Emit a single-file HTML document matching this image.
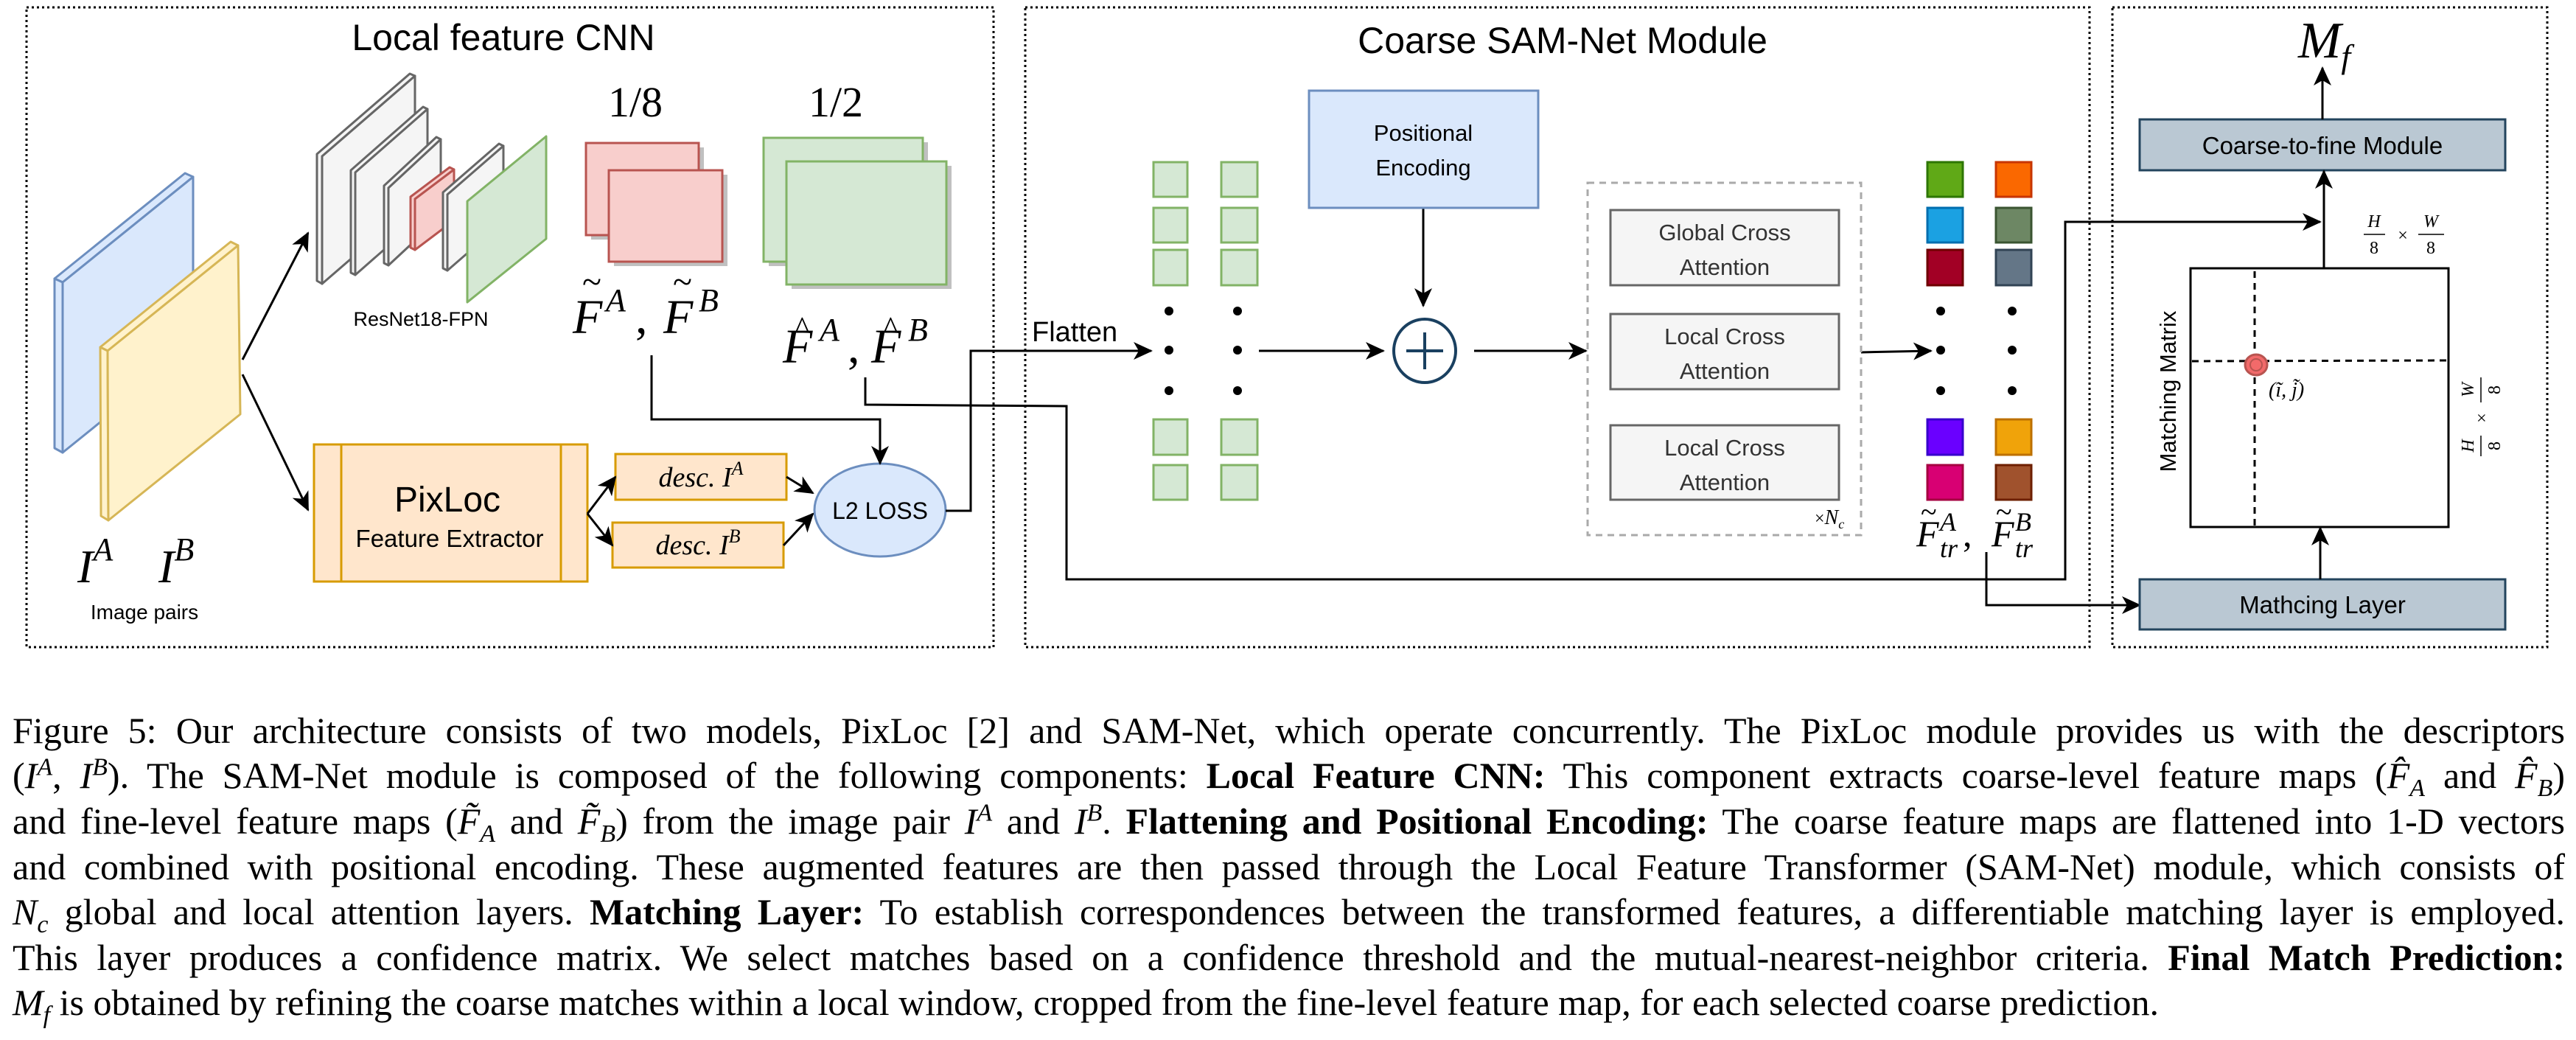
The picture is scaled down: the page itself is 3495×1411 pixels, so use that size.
<!DOCTYPE html>
<html><head><meta charset="utf-8"><style>
html,body{margin:0;padding:0;background:#fff;}
body{width:3495px;height:1411px;position:relative;overflow:hidden;}
svg{position:absolute;left:0;top:0;}
.cap{position:absolute;left:17px;width:3463px;font-family:"Liberation Serif",serif;font-size:50px;line-height:61px;white-space:nowrap;text-align:justify;text-align-last:justify;color:#000;}
.cap i{font-style:italic}
.cap sup,.cap sub{font-size:34px;line-height:0;font-style:italic}
</style></head><body>
<svg width="3495" height="900" viewBox="0 0 3495 900" xmlns="http://www.w3.org/2000/svg">
<defs>
<marker id="ar" markerUnits="userSpaceOnUse" markerWidth="28" markerHeight="28" refX="24" refY="12" orient="auto">
<path d="M0,0 L26,12 L0,24 L7,12 Z" fill="#000"/>
</marker>
</defs>
<g fill="none" stroke="#000" stroke-width="3" stroke-dasharray="3 4">
<rect x="36" y="10" width="1312" height="868"/>
<rect x="1391" y="10" width="1444" height="868"/>
<rect x="2866" y="10" width="590" height="868"/>
</g>
<g font-family="Liberation Sans, sans-serif" text-anchor="middle" fill="#000">
<text x="683" y="68" font-size="50">Local feature CNN</text>
<text x="2120" y="72" font-size="50">Coarse SAM-Net Module</text>
</g>
<g stroke-width="3" stroke-linejoin="round">
<polygon points="74,378 251,235 262,240 85,383" fill="#dae8fc" stroke="#6c8ebf"/>
<polygon points="74,378 85,383 85,614 74,608" fill="#dae8fc" stroke="#6c8ebf"/>
<polygon points="85,383 262,240 262,471 85,614" fill="#dae8fc" stroke="#6c8ebf"/>
<polygon points="136,471 313,328 323,333 146,476" fill="#fff2cc" stroke="#d6b656"/>
<polygon points="136,471 146,476 147,706 137,700" fill="#fff2cc" stroke="#d6b656"/>
<polygon points="146,476 323,333 326,562 147,706" fill="#fff2cc" stroke="#d6b656"/>
</g>
<g font-family="Liberation Serif, serif" font-style="italic" fill="#000">
<text x="105" y="790" font-size="64">I<tspan font-size="44" dy="-30">A</tspan></text>
<text x="215" y="790" font-size="64">I<tspan font-size="44" dy="-30">B</tspan></text>
</g>
<text x="196" y="840" font-family="Liberation Sans, sans-serif" font-size="28" text-anchor="middle">Image pairs</text>
<g stroke="#000" stroke-width="3" fill="none">
<line x1="329" y1="488" x2="418" y2="316" marker-end="url(#ar)"/>
<line x1="329" y1="508" x2="418" y2="692" marker-end="url(#ar)"/>
</g>
<g stroke-width="3" stroke-linejoin="round">
<polygon points="430,209 556,100 563,103 437,212 437,385 430,381" fill="#f5f5f5" stroke="#666"/>
<polygon points="437,212 563,103 563,276 437,385" fill="#f5f5f5" stroke="#666"/>
<polygon points="476,231 574,145 580,148 482,234 482,373 476,370" fill="#f5f5f5" stroke="#666"/>
<polygon points="482,234 580,148 580,287 482,373" fill="#f5f5f5" stroke="#666"/>
<polygon points="521,252 592,186 598,189 527,255 527,360 521,357" fill="#f5f5f5" stroke="#666"/>
<polygon points="527,255 598,189 598,294 527,360" fill="#f5f5f5" stroke="#666"/>
<polygon points="557,267 610,227 616,230 563,270 563,339 557,336" fill="#f8cecc" stroke="#b85450"/>
<polygon points="563,270 616,230 616,299 563,339" fill="#f8cecc" stroke="#b85450"/>
<polygon points="601,261 677,195 683,198 607,264 607,367 601,364" fill="#f5f5f5" stroke="#666"/>
<polygon points="607,264 683,198 683,301 607,367" fill="#f5f5f5" stroke="#666"/>
<polygon points="634,273 741,185 741,324 634,410" fill="#d5e8d4" stroke="#82b366"/>
</g>
<text x="571" y="442" font-family="Liberation Sans, sans-serif" font-size="27" text-anchor="middle">ResNet18-FPN</text>
<g font-family="Liberation Serif, serif" font-size="58" text-anchor="middle">
<text x="862" y="158">1/8</text>
<text x="1134" y="158">1/2</text>
</g>
<rect x="802" y="200" width="153" height="125" fill="#c0c0c0"/>
<rect x="795" y="194" width="153" height="125" fill="#f8cecc" stroke="#b85450" stroke-width="3"/>
<rect x="833" y="237" width="154" height="124" fill="#c0c0c0"/>
<rect x="826" y="231" width="154" height="124" fill="#f8cecc" stroke="#b85450" stroke-width="3"/>
<rect x="1043" y="193" width="216" height="168" fill="#c0c0c0"/>
<rect x="1036" y="187" width="216" height="168" fill="#d5e8d4" stroke="#82b366" stroke-width="3"/>
<rect x="1074" y="225" width="217" height="167" fill="#c0c0c0"/>
<rect x="1067" y="219" width="217" height="167" fill="#d5e8d4" stroke="#82b366" stroke-width="3"/>
<g font-family="Liberation Serif, serif" font-style="italic" fill="#000">
<text x="777" y="452" font-size="66">F</text>
<text x="822" y="422" font-size="44">A</text>
<text x="862" y="452" font-size="66" font-style="normal">,</text>
<text x="900" y="452" font-size="66">F</text>
<text x="948" y="422" font-size="44">B</text>
<text x="790" y="398" font-size="48" font-style="normal">~</text>
<text x="913" y="398" font-size="48" font-style="normal">~</text>
<text x="1062" y="492" font-size="66">F</text>
<text x="1112" y="462" font-size="44">A</text>
<text x="1150" y="492" font-size="66" font-style="normal">,</text>
<text x="1182" y="492" font-size="66">F</text>
<text x="1232" y="462" font-size="44">B</text>
<text x="1078" y="460" font-size="44" font-style="normal">^</text>
<text x="1198" y="460" font-size="44" font-style="normal">^</text>
</g>
<rect x="426" y="603" width="371" height="186" fill="#ffe6cc" stroke="#d79b00" stroke-width="3"/>
<line x1="463" y1="603" x2="463" y2="789" stroke="#d79b00" stroke-width="3"/>
<line x1="761" y1="603" x2="761" y2="789" stroke="#d79b00" stroke-width="3"/>
<text x="607" y="694" font-family="Liberation Sans, sans-serif" font-size="48" text-anchor="middle">PixLoc</text>
<text x="610" y="742" font-family="Liberation Sans, sans-serif" font-size="33" text-anchor="middle">Feature Extractor</text>
<rect x="835" y="616" width="232" height="62" fill="#ffe6cc" stroke="#d79b00" stroke-width="3"/>
<rect x="831" y="709" width="232" height="61" fill="#ffe6cc" stroke="#d79b00" stroke-width="3"/>
<g font-family="Liberation Serif, serif" font-style="italic" font-size="38" text-anchor="middle">
<text x="951" y="660">desc. I<tspan font-size="26" dy="-16">A</tspan></text>
<text x="947" y="752">desc. I<tspan font-size="26" dy="-16">B</tspan></text>
</g>
<ellipse cx="1194" cy="692" rx="89" ry="63" fill="#dae8fc" stroke="#6c8ebf" stroke-width="3"/>
<text x="1194" y="704" font-family="Liberation Sans, sans-serif" font-size="32" text-anchor="middle">L2 LOSS</text>
<g stroke="#000" stroke-width="3" fill="none">
<polyline points="797,697 835,647" marker-end="url(#ar)"/>
<polyline points="797,697 831,740" marker-end="url(#ar)"/>
<polyline points="1067,647 1103,669" marker-end="url(#ar)"/>
<polyline points="1063,740 1103,697" marker-end="url(#ar)"/>
<polyline points="884,482 884,569 1194,569 1194,629" marker-end="url(#ar)"/>
<polyline points="1283,693 1317,693 1317,476 1562,476" marker-end="url(#ar)"/>
<polyline points="1174,512 1174,549 1447,551 1447,786 2802,786 2802,301 3148,301" marker-end="url(#ar)"/>
<polyline points="2695,749 2695,821 2903,821" marker-end="url(#ar)"/>
<line x1="1708" y1="476" x2="1877" y2="476" marker-end="url(#ar)"/>
<line x1="1931" y1="282" x2="1931" y2="415" marker-end="url(#ar)"/>
<line x1="2000" y1="476" x2="2152" y2="476" marker-end="url(#ar)"/>
<line x1="2525" y1="478" x2="2620" y2="476" marker-end="url(#ar)"/>
</g>
<text x="1400" y="463" font-family="Liberation Sans, sans-serif" font-size="38">Flatten</text>
<g fill="#d5e8d4" stroke="#82b366" stroke-width="3">
<rect x="1565" y="220" width="46" height="47"/><rect x="1657" y="220" width="49" height="47"/>
<rect x="1565" y="282" width="46" height="47"/><rect x="1657" y="282" width="49" height="47"/>
<rect x="1565" y="339" width="46" height="48"/><rect x="1657" y="339" width="49" height="48"/>
<rect x="1565" y="569" width="46" height="48"/><rect x="1657" y="569" width="49" height="48"/>
<rect x="1565" y="631" width="46" height="47"/><rect x="1657" y="631" width="49" height="47"/>
</g>
<g fill="#000">
<circle cx="1586" cy="422" r="6"/><circle cx="1586" cy="475" r="6"/><circle cx="1586" cy="530" r="6"/>
<circle cx="1679" cy="422" r="6"/><circle cx="1679" cy="475" r="6"/><circle cx="1679" cy="530" r="6"/>
<circle cx="2633" cy="422" r="6"/><circle cx="2633" cy="475" r="6"/><circle cx="2633" cy="530" r="6"/>
<circle cx="2730" cy="422" r="6"/><circle cx="2730" cy="475" r="6"/><circle cx="2730" cy="530" r="6"/>
</g>
<rect x="1776" y="123" width="311" height="159" fill="#dae8fc" stroke="#6c8ebf" stroke-width="3"/>
<g font-family="Liberation Sans, sans-serif" font-size="31" text-anchor="middle">
<text x="1931" y="191">Positional</text>
<text x="1931" y="238">Encoding</text>
</g>
<ellipse cx="1933" cy="476" rx="42" ry="43" fill="#fff" stroke="#1a4060" stroke-width="4"/>
<line x1="1933" y1="451" x2="1933" y2="501" stroke="#1a4060" stroke-width="4"/>
<line x1="1908" y1="476" x2="1958" y2="476" stroke="#1a4060" stroke-width="4"/>
<rect x="2154" y="248" width="371" height="478" fill="none" stroke="#aaa" stroke-width="3" stroke-dasharray="9 7"/>
<g fill="#f5f5f5" stroke="#666" stroke-width="3">
<rect x="2185" y="285" width="310" height="102"/>
<rect x="2185" y="426" width="310" height="102"/>
<rect x="2185" y="577" width="310" height="101"/>
</g>
<g font-family="Liberation Sans, sans-serif" font-size="31" text-anchor="middle" fill="#333">
<text x="2340" y="326">Global Cross</text><text x="2340" y="373">Attention</text>
<text x="2340" y="467">Local Cross</text><text x="2340" y="514">Attention</text>
<text x="2340" y="618">Local Cross</text><text x="2340" y="665">Attention</text>
</g>
<text x="2462" y="711" font-family="Liberation Serif, serif" font-size="24">×<tspan font-style="italic" font-size="28">N</tspan><tspan font-style="italic" font-size="18" dy="6">c</tspan></text>
<g stroke-width="3">
<rect x="2615" y="220" width="48" height="47" fill="#60a917" stroke="#2d7600"/>
<rect x="2615" y="282" width="48" height="47" fill="#1ba1e2" stroke="#006eaf"/>
<rect x="2615" y="339" width="48" height="48" fill="#a20025" stroke="#6f0000"/>
<rect x="2615" y="569" width="48" height="48" fill="#6a00ff" stroke="#3700cc"/>
<rect x="2615" y="631" width="48" height="47" fill="#d80073" stroke="#a50040"/>
<rect x="2708" y="220" width="48" height="47" fill="#fa6800" stroke="#c73500"/>
<rect x="2708" y="282" width="48" height="47" fill="#6d8764" stroke="#3a5431"/>
<rect x="2708" y="339" width="48" height="48" fill="#647687" stroke="#314354"/>
<rect x="2708" y="569" width="48" height="48" fill="#f0a30a" stroke="#bd7000"/>
<rect x="2708" y="631" width="48" height="47" fill="#a0522d" stroke="#6d1f00"/>
</g>
<g font-family="Liberation Serif, serif" font-style="italic" fill="#000">
<text x="2600" y="741" font-size="50">F</text>
<text x="2632" y="720" font-size="36">A</text>
<text x="2632" y="756" font-size="36">tr</text>
<text x="2663" y="741" font-size="50" font-style="normal">,</text>
<text x="2702" y="741" font-size="50">F</text>
<text x="2734" y="720" font-size="36">B</text>
<text x="2734" y="756" font-size="36">tr</text>
<text x="2606" y="708" font-size="40" font-style="normal">~</text>
<text x="2708" y="708" font-size="40" font-style="normal">~</text>
</g>
<text x="3118" y="78" font-family="Liberation Serif, serif" font-style="italic" font-size="70">M<tspan font-size="46" dy="14">f</tspan></text>
<rect x="2903" y="162" width="496" height="69" fill="#bac8d3" stroke="#23445d" stroke-width="3"/>
<text x="3151" y="209" font-family="Liberation Sans, sans-serif" font-size="33" text-anchor="middle">Coarse-to-fine Module</text>
<rect x="2903" y="786" width="496" height="68" fill="#bac8d3" stroke="#23445d" stroke-width="3"/>
<text x="3151" y="832" font-family="Liberation Sans, sans-serif" font-size="33" text-anchor="middle">Mathcing Layer</text>
<g stroke="#000" stroke-width="3" fill="none">
<line x1="3151" y1="162" x2="3151" y2="92" marker-end="url(#ar)"/>
<line x1="3153" y1="364" x2="3153" y2="232" marker-end="url(#ar)"/>
<line x1="3148" y1="786" x2="3148" y2="716" marker-end="url(#ar)"/>
<rect x="2972" y="364" width="350" height="351"/>
<line x1="3059" y1="368" x2="3059" y2="713" stroke-dasharray="9 7"/>
<line x1="2974" y1="490" x2="3320" y2="489" stroke-dasharray="9 7"/>
</g>
<ellipse cx="3061" cy="495" rx="15" ry="14" fill="#f26a6a" stroke="#b85450" stroke-width="3"/>
<circle cx="3061" cy="495" r="8" fill="none" stroke="#b85450" stroke-width="2"/>
<text x="3078" y="538" font-family="Liberation Serif, serif" font-style="italic" font-size="28">(ĩ, j̃)</text>
<text transform="translate(2952,531) rotate(-90)" font-family="Liberation Sans, sans-serif" font-size="31" text-anchor="middle">Matching Matrix</text>
<g font-family="Liberation Serif, serif" font-size="24" text-anchor="middle">
<text x="3221" y="308" font-style="italic">H</text><line x1="3207" y1="318" x2="3236" y2="318" stroke="#000" stroke-width="1.5"/><text x="3221" y="344">8</text>
<text x="3260" y="327">×</text>
<text x="3298" y="308" font-style="italic">W</text><line x1="3281" y1="318" x2="3316" y2="318" stroke="#000" stroke-width="1.5"/><text x="3298" y="344">8</text>
<g transform="translate(3366,567) rotate(-90)">
<text x="-38" y="-10" font-style="italic">H</text><line x1="-52" y1="0" x2="-24" y2="0" stroke="#000" stroke-width="1.5"/><text x="-38" y="26">8</text>
<text x="0" y="9">×</text>
<text x="38" y="-10" font-style="italic">W</text><line x1="21" y1="0" x2="55" y2="0" stroke="#000" stroke-width="1.5"/><text x="38" y="26">8</text>
</g>
</g>
</svg>
<div class="cap" style="top:961px">Figure 5: Our architecture consists of two models, PixLoc [2] and SAM-Net, which operate concurrently. The PixLoc module provides us with the descriptors</div>
<div class="cap" style="top:1022px">(<i>I</i><sup>A</sup>, <i>I</i><sup>B</sup>). The SAM-Net module is composed of the following components: <b>Local Feature CNN:</b> This component extracts coarse-level feature maps (<i>F̂</i><sub><i>A</i></sub> and <i>F̂</i><sub><i>B</i></sub>)</div>
<div class="cap" style="top:1084px">and fine-level feature maps (<i>F̃</i><sub><i>A</i></sub> and <i>F̃</i><sub><i>B</i></sub>) from the image pair <i>I</i><sup>A</sup> and <i>I</i><sup>B</sup>. <b>Flattening and Positional Encoding:</b> The coarse feature maps are flattened into 1-D vectors</div>
<div class="cap" style="top:1146px">and combined with positional encoding. These augmented features are then passed through the Local Feature Transformer (SAM-Net) module, which consists of</div>
<div class="cap" style="top:1207px"><i>N</i><sub><i>c</i></sub> global and local attention layers. <b>Matching Layer:</b> To establish correspondences between the transformed features, a differentiable matching layer is employed.</div>
<div class="cap" style="top:1269px">This layer produces a confidence matrix. We select matches based on a confidence threshold and the mutual-nearest-neighbor criteria. <b>Final Match Prediction:</b></div>
<div class="cap" style="top:1330px;text-align:left;text-align-last:left"><i>M</i><sub><i>f</i></sub> is obtained by refining the coarse matches within a local window, cropped from the fine-level feature map, for each selected coarse prediction.</div>
</body></html>
